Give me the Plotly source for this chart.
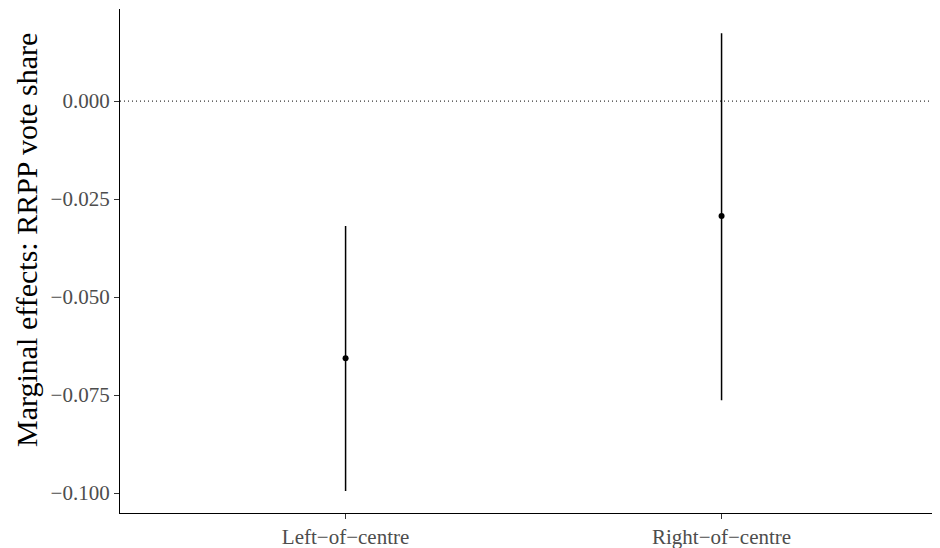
import plotly.graph_objects as go

categories = ["Left\u2212of\u2212centre", "Right\u2212of\u2212centre"]
estimate = [-0.0656, -0.0293]
ci_lower = [-0.0995, -0.0763]
ci_upper = [-0.0319, 0.0173]
y_ticks = [0.0, -0.025, -0.05, -0.075, -0.1]
y_tick_labels = ["0.000", "\u22120.025", "\u22120.050", "\u22120.075", "\u22120.100"]
y_title = "Marginal effects: RRPP vote share"

x_pos = list(range(len(categories)))

fig = go.Figure()
fig.add_trace(go.Scatter(
    x=x_pos, y=estimate, mode="markers",
    marker=dict(color="black", size=6),
    error_y=dict(type="data", symmetric=False,
                 array=[u - e for u, e in zip(ci_upper, estimate)],
                 arrayminus=[e - l for e, l in zip(estimate, ci_lower)],
                 color="black", thickness=1.5, width=0),
    showlegend=False, hoverinfo="skip",
))
fig.add_hline(y=0, line=dict(color="black", width=1, dash="1px,3px"))

font_family = "Liberation Serif, Times New Roman, serif"
# the page body has an 8px default margin; compensate so the plot sits where intended
fig.update_layout(
    width=932, height=540,
    margin=dict(l=112, r=0, t=1, b=35),
    plot_bgcolor="white", paper_bgcolor="white",
    font=dict(family=font_family, color="#4d4d4d"),
)
fig.add_annotation(
    text=y_title, textangle=-90, showarrow=False,
    xref="paper", yref="paper", x=-0.1134, y=0.5417,
    xanchor="center", yanchor="middle",
    font=dict(size=30, color="black", family=font_family),
)
fig.update_xaxes(
    range=[-0.6, 1.581], tickvals=x_pos, ticktext=categories,
    showline=True, linecolor="black", linewidth=1.2, showgrid=False, zeroline=False,
    ticks="outside", ticklen=5, tickcolor="#333333", tickwidth=1.2,
    tickfont=dict(size=21, color="#4d4d4d", family=font_family),
)
fig.update_yaxes(
    range=[-0.1051, 0.0235], tickvals=y_ticks, ticktext=y_tick_labels,
    showline=True, linecolor="black", linewidth=1.2, showgrid=False, zeroline=False,
    ticks="outside", ticklen=5, tickcolor="#333333", tickwidth=1.2,
    tickfont=dict(size=21, color="#4d4d4d", family=font_family),
)
fig.write_html("out.html")
